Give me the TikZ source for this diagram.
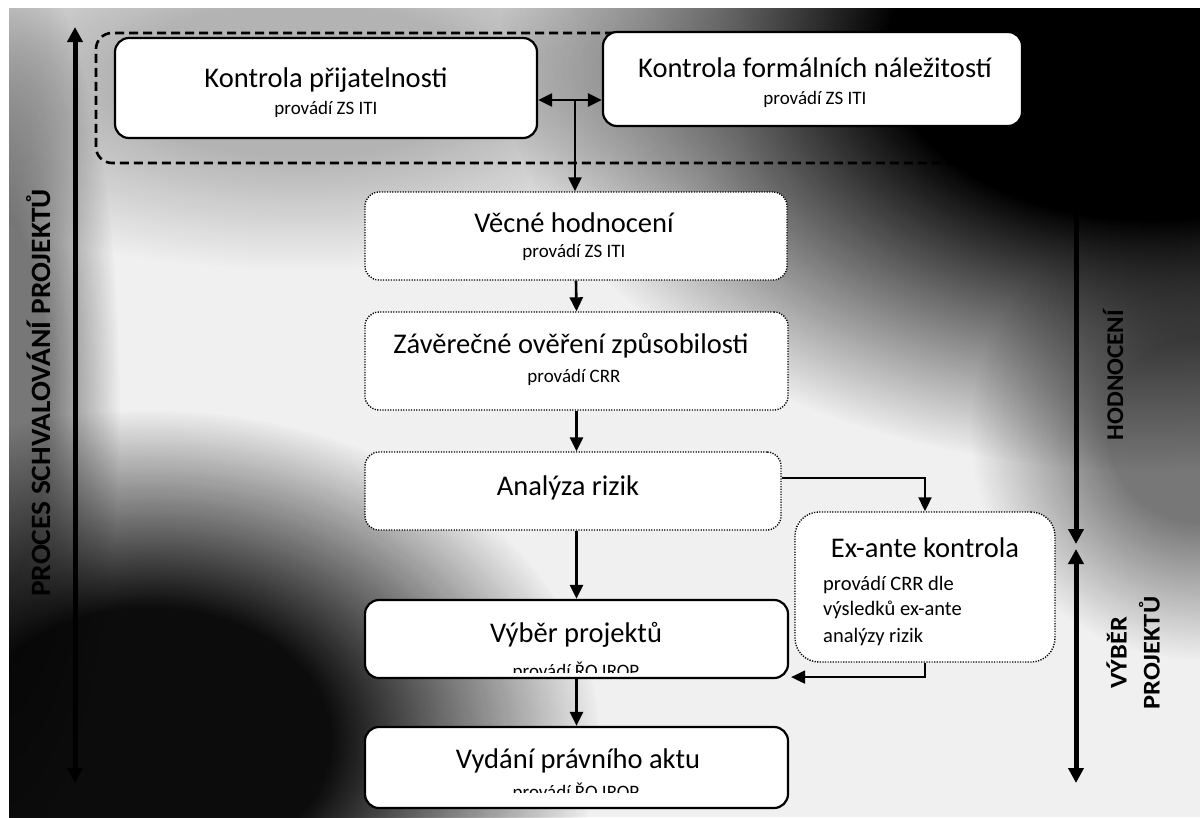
\documentclass[tikz,border=0pt]{standalone}
\usepackage{fontspec}
\setmainfont{Carlito}
\usetikzlibrary{arrows.meta,calc,fadings}

% soft radial spot used for the shaded background (opaque core, fading rim)
\pgfdeclareradialshading{softspotshade}{\pgfpointorigin}{color(0bp)=(pgftransparent!0); color(10bp)=(pgftransparent!0); color(25bp)=(pgftransparent!100); color(50bp)=(pgftransparent!100)}
\pgfdeclarefading{softspot}{\pgfuseshading{softspotshade}}

\tikzset{
  solidbox/.style={draw=black, line width=2.2pt, fill=white, rounded corners=14pt, inner sep=0pt},
  dotbox/.style={draw=black, line width=1.4pt, dash pattern=on 1.2pt off 1.4pt, fill=white, rounded corners=14pt, inner sep=0pt},
  groupframe/.style={draw=black, line width=2.6pt, dash pattern=on 9pt off 5pt, rounded corners=16pt, inner sep=0pt},
  ttl/.style={font=\fontsize{28.5}{33}\selectfont, anchor=base, inner sep=0pt},
  subt/.style={font=\fontsize{19}{22}\selectfont, anchor=base, inner sep=0pt},
  bodyt/.style={font=\fontsize{20.5}{24}\selectfont, anchor=base west, inner sep=0pt},
  link/.style={line width=2.6pt, -{Triangle[length=14pt,width=13pt]}},
  sidelink/.style={line width=2pt, -{Triangle[length=14pt,width=13pt]}},
  spantip/.tip={Triangle[length=15pt,width=15pt]},
  span/.style={line width=5pt},
  vlabel/.style={font=\bfseries\fontsize{24}{33}\selectfont, rotate=90, align=center, inner sep=0pt},
  spot/.style={fill=black, path fading=softspot},
}

\begin{document}
\begin{tikzpicture}[x=1pt, y=-1pt]
\useasboundingbox (0,0) rectangle (1200,817);

% shaded background
\fill[white] (0,0) rectangle (1200,817);
\begin{scope}
  \clip (9,8) rectangle (1200,817);
  \fill[gray!12] (9,8) rectangle (1200,817);
  \fill[spot, fill opacity=0.25] (300,80) ellipse [x radius=460pt, y radius=190pt];
  \fill[spot, fill opacity=0.5] (0,400) ellipse [x radius=120pt, y radius=460pt];
  \fill[spot, fill opacity=0.5] (1200,430) ellipse [x radius=230pt, y radius=230pt];
  \fill[spot] (1150,50) ellipse [x radius=650pt, y radius=420pt];
  \fill[spot, fill opacity=0.95] (150,740) ellipse [x radius=450pt, y radius=330pt];
\end{scope}

% group frame around the two admissibility checks
\node[groupframe, minimum width=954pt, minimum height=130pt] (grp) at (573,98) {};

% boxes
\node[solidbox, minimum width=422pt, minimum height=100pt] (k1) at (326,88) {};
\node[solidbox, minimum width=419pt, minimum height=94pt] (k2) at (812.5,79) {};
\node[dotbox, minimum width=422pt, minimum height=88pt] (vecne) at (576,236) {};
\node[dotbox, minimum width=423pt, minimum height=98pt] (zaver) at (576.5,361) {};
\node[dotbox, minimum width=416pt, minimum height=78pt] (analyza) at (573,491) {};
\node[dotbox, minimum width=260pt, minimum height=150pt, rounded corners=24pt] (exante) at (925,587) {};
\node[solidbox, minimum width=423pt, minimum height=78pt] (vyber) at (576.5,639) {};
\node[solidbox, minimum width=423pt, minimum height=81pt] (vydani) at (576.5,767.5) {};

% box texts
\node[ttl] (k1t) at (326,87) {Kontrola přijatelnosti};
\node[subt] (k1s) at (326,114) {provádí ZS ITI};
\node[ttl] (k2t) at (815,77) {Kontrola formálních náležitostí};
\node[subt] (k2s) at (815,104) {provádí ZS ITI};
\node[ttl] (vecnet) at (574,232) {Věcné hodnocení};
\node[subt] (vecnes) at (574,257) {provádí ZS ITI};
\node[ttl] (zavert) at (571,353) {Závěrečné ověření způsobilosti};
\node[subt] (zavers) at (574,382) {provádí CRR};
\node[ttl] (analyzat) at (568,495) {Analýza rizik};
\node[ttl] (exantet) at (925,557) {Ex-ante kontrola};
\node[bodyt] (exanteb1) at (823,590) {provádí CRR dle};
\node[bodyt] (exanteb2) at (823,615) {výsledků ex-ante};
\node[bodyt] (exanteb3) at (823,642) {analýzy rizik};
\node[ttl] (vybert) at (576,642) {Výběr projektů};
\node[ttl] (vydanit) at (578,768) {Vydání právního aktu};

% subtitles cut off along the lower part of their boxes
\begin{scope}
  \clip (vyber.north west) rectangle (vyber.east |- 0,672);
  \node[subt] (vybers) at (576,677) {provádí ŘO IROP};
\end{scope}
\begin{scope}
  \clip (vydani.north west) rectangle (vydani.east |- 0,792);
  \node[subt] (vydanis) at (576,798) {provádí ŘO IROP};
\end{scope}

% connectors
\coordinate (jn) at (575,100);
\draw[link] (jn) -- (k1.east |- jn);
\draw[link] (jn) -- (k2.west |- jn);
\draw[link] (jn) -- (jn |- vecne.north);
\draw[link] (vecne.south) -- (zaver.north);
\draw[link] (zaver.south) -- (zaver.south |- analyza.north);
\draw[link] (vyber.north |- analyza.south) -- (vyber.north);
\draw[link] (vyber.south) -- (vydani.north);
\draw[sidelink] ($(analyza.east)+(0,-13)$) -| (exante.north);
\draw[sidelink] (exante.south) |- ($(vyber.south east)+(2,-2)$);

% process spans
\coordinate (ltop) at (75,27);
\coordinate (lbot) at (75,783);
\draw[span, spantip-spantip] (ltop) -- (lbot);
\coordinate (rtop) at (1076,27);
\coordinate (rmid) at (1076,544);
\coordinate (rmid2) at (1076,549);
\coordinate (rbot) at (1076,783);
\draw[span, -spantip] (rtop) -- (rmid);
\draw[span, spantip-spantip] (rmid2) -- (rbot);

% span labels
\node[vlabel, font=\bfseries\fontsize{28}{33}\selectfont, xscale=1.05] (lproc) at (39,393) {PROCES SCHVALOVÁNÍ PROJEKTŮ};
\node[vlabel, xscale=1.04] (lhod) at (1113,375) {HODNOCENÍ};
\node[vlabel, xscale=1.1] (lvyb) at (1133,653) {VÝBĚR\\PROJEKTŮ};
\end{tikzpicture}
\end{document}
